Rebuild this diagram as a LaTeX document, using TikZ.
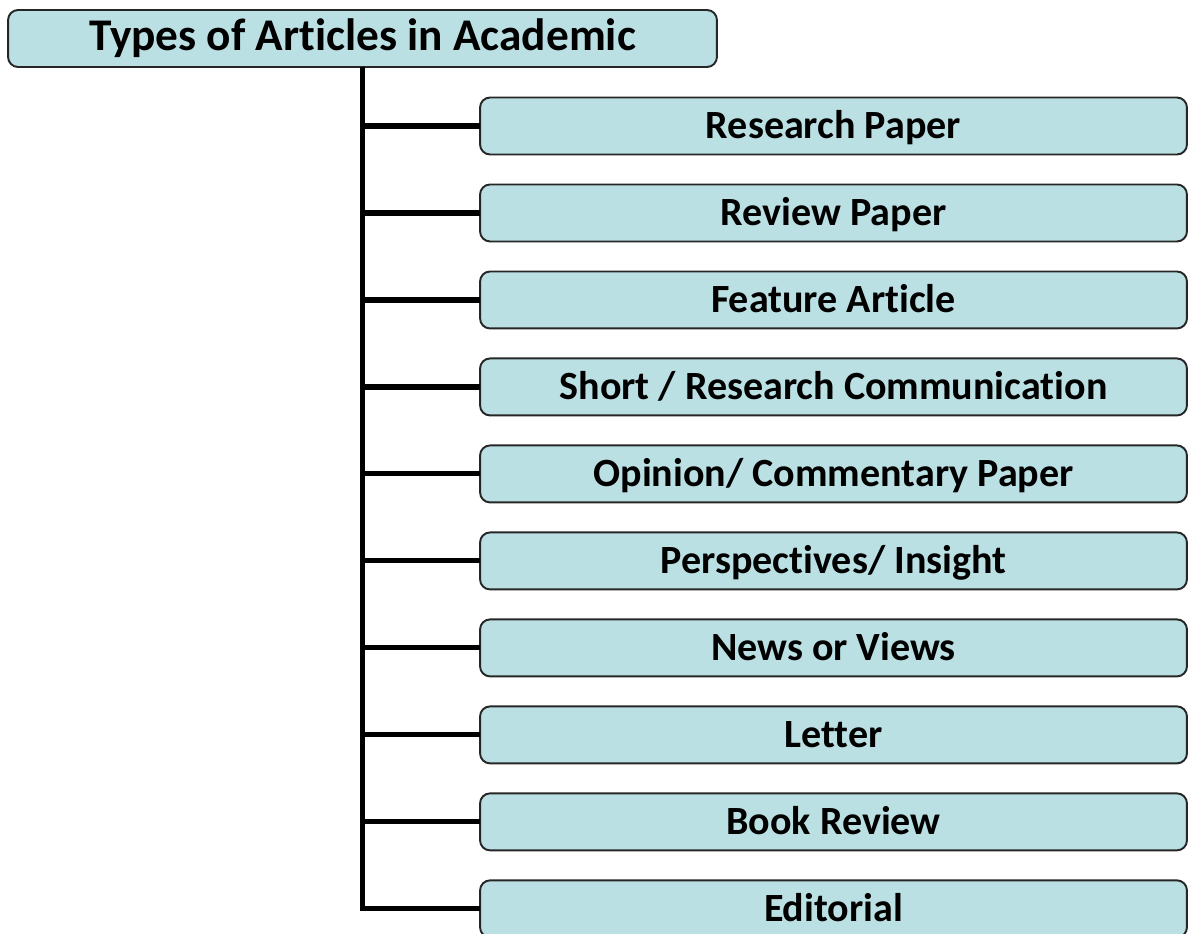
\documentclass[tikz,border=0pt]{standalone}
\usepackage{fontspec}
\setmainfont{Carlito}[Ligatures=NoCommon]
\usetikzlibrary{positioning}
\definecolor{boxfill}{RGB}{187,224,227}

\begin{document}
\begin{tikzpicture}[
    x=0.02cm, y=-0.02cm,
    node distance=0.6cm,
    topbox/.style={draw=black!85,fill=boxfill,rounded corners=0.2cm,line width=1.1pt,
      minimum width=14.18cm,minimum height=1.14cm,outer sep=0pt,
      text height=16.6pt,text depth=2.8pt,
      font=\fontsize{25.8}{30}\selectfont\bfseries},
    kindbox/.style={draw=black!85,fill=boxfill,rounded corners=0.2cm,line width=1.1pt,
      minimum width=14.14cm,minimum height=1.14cm,outer sep=0pt,
      text height=14.7pt,text depth=0pt,
      font=\fontsize{22.8}{26}\selectfont\bfseries},
    conn/.style={line width=2.9pt}
    ]
    \useasboundingbox (0,0) rectangle (1192,933);

    \node[topbox] (title) at (362.5,38.5) {Types of Articles in Academic};

    \node[kindbox] (research) at (833.5,126) {Research Paper};
    \node[kindbox, below=of research] (review) {Review Paper};
    \node[kindbox, below=of review] (feature) {Feature Article};
    \node[kindbox, below=of feature] (short) {Short / Research Communication};
    \node[kindbox, below=of short] (opinion) {Opinion/ Commentary Paper};
    \node[kindbox, below=of opinion] (persp) {Perspectives/ Insight};
    \node[kindbox, below=of persp] (news) {News or Views};
    \node[kindbox, below=of news] (letter) {Letter};
    \node[kindbox, below=of letter] (book) {Book Review};
    \node[kindbox, below=of book] (editorial) {Editorial};

    \foreach \n in {research,review,feature,short,opinion,persp,news,letter,book,editorial}
      \draw[conn] (title.south) |- (\n.west);

  \end{tikzpicture}
\end{document}
